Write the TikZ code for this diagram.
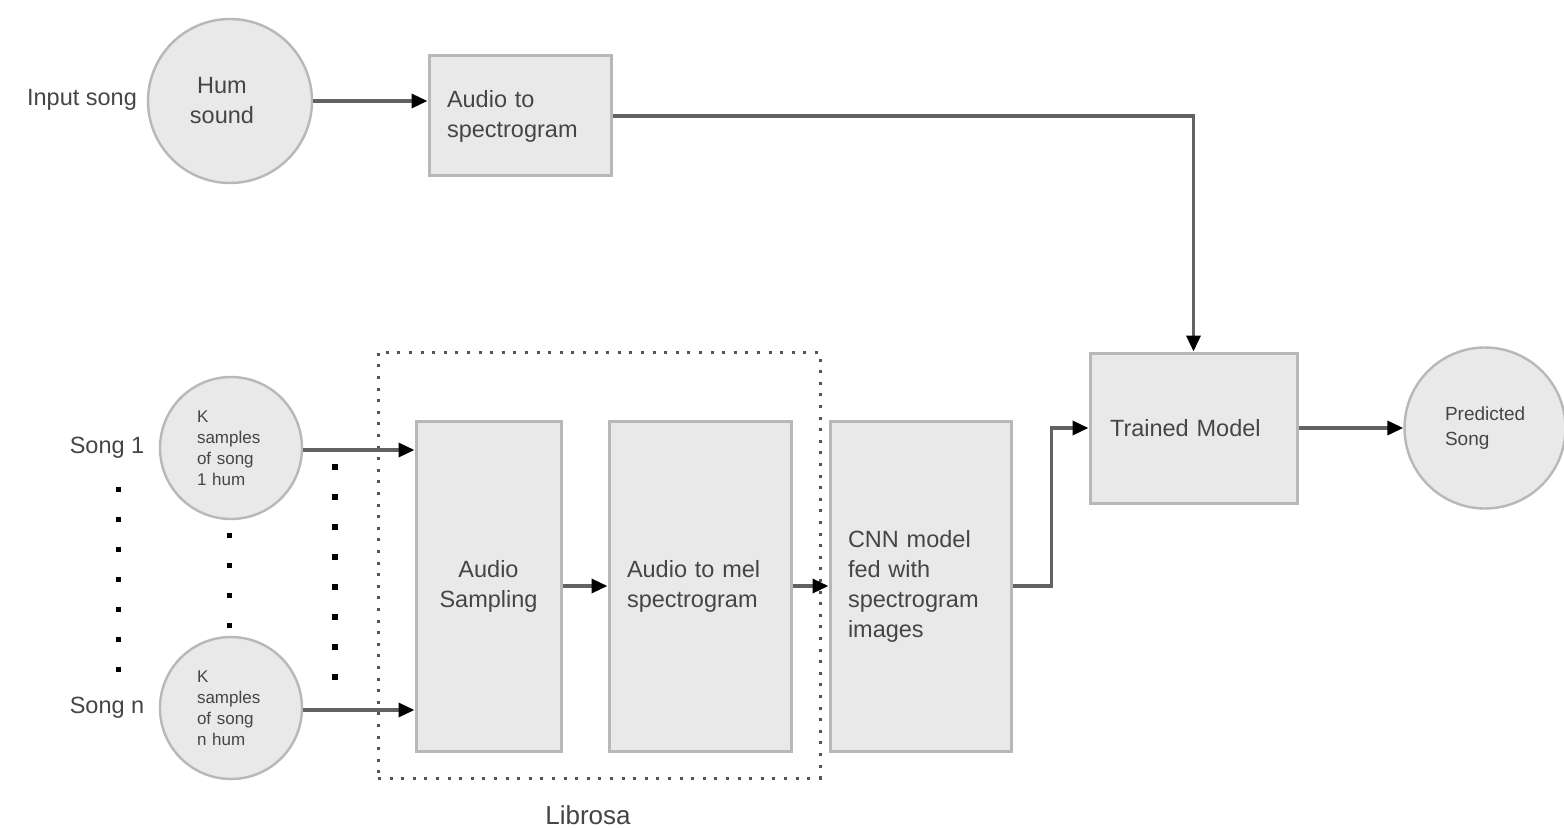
\documentclass[tikz,border=0pt]{standalone}
\usepackage{fontspec}
\setmainfont{Liberation Sans}
\usetikzlibrary{arrows.meta}
\definecolor{boxfill}{HTML}{E9E9E9}
\definecolor{boxline}{HTML}{B8B8B8}
\definecolor{linegray}{HTML}{626262}
\definecolor{txt}{HTML}{454545}
\definecolor{dotgray}{HTML}{555555}
\tikzset{
  bigfont/.style={font=\fontsize{11.75pt}{15pt}\selectfont},
  smallfont/.style={font=\fontsize{8.5pt}{10.5pt}\selectfont},
  stagebox/.style={draw=boxline, fill=boxfill, line width=1.5pt, rectangle,
    inner sep=0pt, text=txt, bigfont},
  blob/.style={draw=boxline, fill=boxfill, line width=1.2pt, circle,
    inner sep=0pt, text=txt},
  lbl/.style={text=txt, bigfont, inner sep=0pt},
  conn/.style={draw=linegray, line width=1.7pt,
    -{Triangle[length=8pt,width=7pt,color=black]}},
  ellip/.style={draw=black, line width=3pt, dash pattern=on 3pt off 12pt},
}
\begin{document}
\begin{tikzpicture}[x=0.5pt,y=-0.5pt]
\useasboundingbox[fill=white] (0,0) rectangle (1564,829);

% upper branch: query hum
\node[blob, minimum size=82pt, bigfont, align=center, text width=40pt] (hum) at (230,101)
  {\hspace*{-8pt}Hum\\\hspace*{-8pt}sound};
\node[lbl] (inlbl) at (82,100) {Input song};
\node[stagebox, minimum width=91pt, minimum height=60pt, text width=73pt, align=left]
  (a2s) at (520,116) {Audio to\\spectrogram};

% Librosa frame
\node[draw=dotgray, line width=1.5pt, dash pattern=on 1.5pt off 4.3pt,
  minimum width=221pt, minimum height=213pt, inner sep=0pt] (lib) at (599,565) {};
\node[lbl, font=\fontsize{13pt}{15pt}\selectfont] (libtxt) at (588,815) {Librosa};

% training songs
\node[blob, minimum size=71pt, smallfont, text width=34pt, align=left]
  (s1) at (231,448) {K\\samples\\of song\\1 hum};
\node[blob, minimum size=71pt, smallfont, text width=34pt, align=left]
  (sn) at (231,708) {K\\samples\\of song\\n hum};
\node[lbl] (s1lbl) at (107,448) {Song 1};
\node[lbl] (snlbl) at (107,708) {Song n};

% processing stages
\node[stagebox, minimum width=72.5pt, minimum height=165pt, align=center]
  (samp) at (488.5,586) {Audio\\Sampling};
\node[stagebox, minimum width=91pt, minimum height=165pt, text width=73pt, align=left]
  (mel) at (700,586) {Audio to mel\\spectrogram};
\node[stagebox, minimum width=90.5pt, minimum height=165pt, text width=72.5pt, align=left]
  (cnn) at (920.5,586) {CNN model\\fed with\\spectrogram\\images};

% model and result
\node[stagebox, minimum width=103.5pt, minimum height=75pt, text width=83.5pt, align=left]
  (tm) at (1193.5,428) {Trained Model};
\node[blob, minimum size=80.5pt, font=\fontsize{9.5pt}{12.5pt}\selectfont,
  text width=40pt, align=left] (pred) at (1485,428) {Predicted\\Song};

% ellipsis marks between the song inputs
\draw[ellip, line width=2.5pt, dash pattern=on 2.5pt off 12.5pt] (118,487) -- (118,673);
\draw[ellip, line width=2.5pt, dash pattern=on 2.5pt off 12.65pt] (229,532.5) -- (229,629);
\draw[ellip] (335,464) -- (335,680);

% connectors
\draw[conn] (hum.east) -- (hum.east -| a2s.west);
\draw[conn] (a2s.east) -| (tm.north);
\draw[conn] ([yshift=-1pt]s1.east) -- ([yshift=-1pt]s1.east -| samp.west);
\draw[conn] ([yshift=-1pt]sn.east) -- ([yshift=-1pt]sn.east -| samp.west);
\draw[conn] (samp.east) -- (mel.west);
\draw[conn] (mel.east) -- (cnn.west);
\draw[conn] (cnn.east) -- ++(39,0) |- (tm.west);
\draw[conn] (tm.east) -- (pred.west);
\end{tikzpicture}
\end{document}
